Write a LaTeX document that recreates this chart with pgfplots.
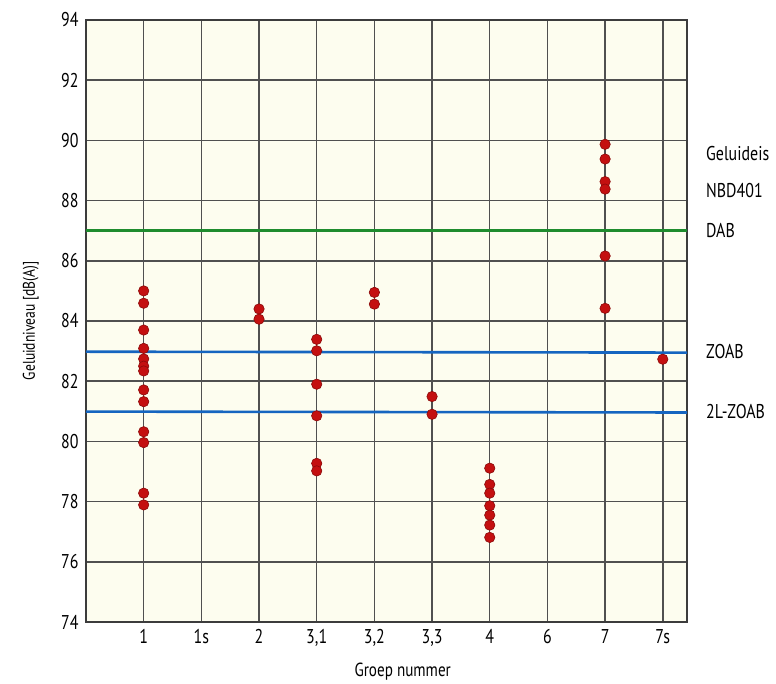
\documentclass[border=0pt]{standalone}
\usepackage{fontspec}
\setmainfont{PT Sans}[FakeStretch=0.8]
\usepackage{pgfplots}
\pgfplotsset{compat=1.18}
\definecolor{paper}{HTML}{FDFDEF}
\definecolor{gridgray}{HTML}{3C3C3C}
\definecolor{dotred}{HTML}{C41010}
\definecolor{dotedge}{HTML}{8A0A0A}
\definecolor{dabgreen}{HTML}{1E8C2E}
\definecolor{zoabblue}{HTML}{1565C0}

\pgfplotsset{
  dots/.style={only marks, mark=*, mark size=5.2bp,
    mark options={fill=dotred, draw=dotedge, line width=0.6bp}},
  level/.style={no marks, line width=2.6bp},
}

\begin{document}
\begin{tikzpicture}
\begin{axis}[
  scale only axis, width=601bp, height=602bp,
  xmin=0, xmax=10.42, ymin=74, ymax=94,
  xtick={1,...,10},
  xticklabels={1,1s,2,{3,1},{3,2},{3,3},4,6,7,7s},
  ytick={74,76,...,94},
  grid=major,
  major grid style={line width=1.5bp, color=gridgray!90},
  axis line style={line width=1.6bp, color=gridgray},
  major tick length=0pt,
  axis background/.style={fill=paper},
  tick label style={font=\fontsize{20}{24}\selectfont},
  /pgf/number format/assume math mode=true,
  yticklabel style={xshift=-4bp},
  xticklabel style={yshift=-4bp},
  xlabel={Groep nummer},
  ylabel={Geluidniveau [dB(A)]},
  xlabel style={font=\fontsize{19}{22}\selectfont, at={(axis description cs:0.527,-0.083)}, anchor=center},
  ylabel style={font=\fontsize{17}{20}\selectfont, at={(axis description cs:-0.092,0.5)}, anchor=center},
  clip=false,
]
% reference levels
\addplot[level, dabgreen] coordinates {(0,87.0) (10.42,87.0)};
\addplot[level, zoabblue] coordinates {(0,82.98) (10.42,82.95)};
\addplot[level, zoabblue] coordinates {(0,80.99) (10.42,80.96)};

% group 1
\addplot[dots] coordinates {(1,85.0) (1,84.59) (1,83.70) (1,83.09) (1,82.74) (1,82.50) (1,82.34)
  (1,81.71) (1,81.32) (1,80.32) (1,79.96) (1,78.28) (1,77.89)};
% group 2
\addplot[dots] coordinates {(3,84.40) (3,84.06)};
% group 3,1
\addplot[dots] coordinates {(4,83.39) (4,83.01) (4,81.90) (4,80.85) (4,79.27) (4,79.02)};
% group 3,2
\addplot[dots] coordinates {(5,84.95) (5,84.56)};
% group 3,3
\addplot[dots] coordinates {(6,81.49) (6,80.90)};
% group 4
\addplot[dots] coordinates {(7,79.11) (7,78.57) (7,78.28) (7,77.86) (7,77.55) (7,77.22) (7,76.81)};
% group 7
\addplot[dots] coordinates {(9,89.87) (9,89.38) (9,88.63) (9,88.38) (9,86.16) (9,84.42)};
% group 7s
\addplot[dots] coordinates {(10,82.73)};

\begin{scope}[every node/.style={anchor=west, font=\fontsize{20}{24}\selectfont, inner sep=0pt}]
\node at (axis cs:10.42,89.55) [xshift=19bp] {Geluideis};
\node at (axis cs:10.42,88.35) [xshift=19bp] {NBD401};
\node at (axis cs:10.42,87.0) [xshift=19bp] {DAB};
\node at (axis cs:10.42,83.0) [xshift=19bp] {ZOAB};
\node at (axis cs:10.42,81.0) [xshift=19bp] {2L-ZOAB};
\end{scope}
\end{axis}
\path[use as bounding box] (-86bp,-61bp) rectangle (690bp,622bp);
\end{tikzpicture}
\end{document}
